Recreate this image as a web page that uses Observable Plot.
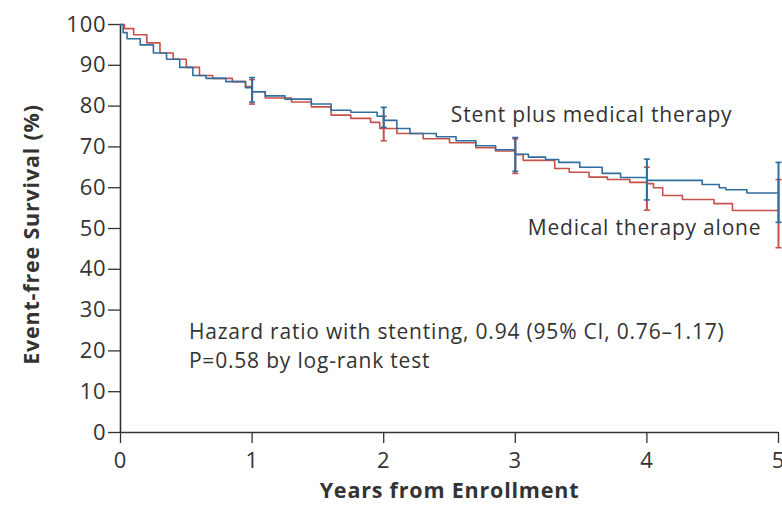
<!DOCTYPE html>
<html>
<head>
<meta charset="utf-8">
<script src="https://cdn.jsdelivr.net/npm/d3@7"></script>
<script src="https://cdn.jsdelivr.net/npm/@observablehq/plot@0.6"></script>
<style>
  html, body { margin: 0; padding: 0; background: #fff; }
  #chart svg text { letter-spacing: 0.8px; }
</style>
</head>
<body>
<div id="chart"></div>
<script>
// Kaplan-Meier step points: Stent plus medical therapy (blue)
const stentYears = [0, 0.02, 0.05, 0.15, 0.25, 0.35, 0.45, 0.55, 0.65, 0.8, 0.95, 1.0, 1.1, 1.25, 1.45, 1.6, 1.75, 1.95, 2.0, 2.1, 2.2, 2.4, 2.55, 2.7, 2.85, 3.0, 3.1, 3.23, 3.33, 3.49, 3.66, 3.8, 4.0, 4.42, 4.55, 4.6, 4.76, 5.0];
const stentValues = [100, 98, 96.5, 95, 93, 91.5, 89.5, 87.5, 86.8, 86, 84.5, 83.5, 82.5, 81.7, 80.5, 79, 78.5, 77.5, 76.5, 74.5, 73.3, 72.5, 71.5, 70.3, 69.3, 68.2, 67.5, 66.9, 66.2, 65, 63.5, 62.5, 61.8, 60.8, 60, 59.5, 58.7, 58.7];

// Medical therapy alone (red)
const medYears = [0, 0.03, 0.1, 0.2, 0.3, 0.4, 0.5, 0.6, 0.7, 0.85, 0.95, 1.0, 1.1, 1.3, 1.45, 1.6, 1.75, 1.9, 1.97, 2.1, 2.3, 2.5, 2.7, 2.85, 3.0, 3.06, 3.3, 3.41, 3.56, 3.7, 3.87, 4.0, 4.05, 4.12, 4.27, 4.51, 4.65, 5.0];
const medValues = [100, 99, 97.5, 95.5, 93, 91.5, 89.5, 87.5, 86.8, 86, 84.8, 83.5, 82, 81, 79.8, 77.8, 77, 76, 74.5, 73.3, 72, 71, 69.8, 69, 68.1, 66.7, 64.7, 63.8, 62.6, 62, 61.3, 61, 60, 58.1, 57.1, 56.1, 54.4, 54.4];

// 95% confidence bars at yearly marks
const ciYears = [1, 2, 3, 4, 5];
const stentLow = [81, 74.8, 64, 57, 51.5];
const stentHigh = [87, 79.7, 72.3, 67, 66.2];
const medLow = [80.5, 71.5, 63.5, 54.5, 45.3];
const medHigh = [86.5, 77.5, 72, 65, 62];

// Axis ticks
const xTicks = [0, 1, 2, 3, 4, 5];
const yTicks = [0, 10, 20, 30, 40, 50, 60, 70, 80, 90, 100];

// Annotations (anchored in data units)
const stentLabel = [{text: "Stent plus medical therapy", x: 2.51, y: 76.2}];
const medLabel = [{text: "Medical therapy alone", x: 4.87, y: 48.3}];
const statLines = [
  {text: "Hazard ratio with stenting, 0.94 (95% CI, 0.76\u20131.17)", x: 0.52, y: 23},
  {text: "P=0.58 by log-rank test", x: 0.52, y: 15.9}
];

const BLUE = "#2f6f9f";
const RED = "#c5514a";
const FONT = "Open Sans";

const stent = stentYears.map((x, i) => ({x, y: stentValues[i]}));
const med = medYears.map((x, i) => ({x, y: medValues[i]}));
const ciStent = ciYears.map((x, i) => ({x, lo: stentLow[i], hi: stentHigh[i]}));
const ciMed = ciYears.map((x, i) => ({x, lo: medLow[i], hi: medHigh[i]}));

const cap = {draw(ctx, size) { const w = Math.sqrt(size); ctx.moveTo(-w / 2, 0); ctx.lineTo(w / 2, 0); }};

const capMarks = (data, color) => [
  Plot.ruleX(data, {x: "x", y1: "lo", y2: "hi", stroke: color, strokeWidth: 2}),
  Plot.dot(data, {x: "x", y: "lo", symbol: cap, r: 3.4, stroke: color, strokeWidth: 1.6, fill: "none"}),
  Plot.dot(data, {x: "x", y: "hi", symbol: cap, r: 3.4, stroke: color, strokeWidth: 1.6, fill: "none"})
];

const chart = Plot.plot({
  width: 782,
  height: 515,
  marginLeft: 120,
  marginRight: 4,
  marginTop: 24,
  marginBottom: 83,
  style: {fontFamily: FONT, fontSize: "22px", color: "#333", background: "#fff", overflow: "visible"},
  x: {domain: [0, 5]},
  y: {domain: [0, 100]},
  marks: [
    Plot.axisY({ticks: yTicks, tickFormat: "d", tickSize: 12, tickPadding: 2, fontSize: 22, label: null, strokeWidth: 1.3}),
    Plot.axisX({ticks: xTicks, tickFormat: "d", tickSize: 11, tickPadding: 9, fontSize: 22, label: null, strokeWidth: 1.3}),
    Plot.ruleX([0], {stroke: "#333", strokeWidth: 1.6}),
    Plot.ruleY([0], {stroke: "#333", strokeWidth: 1.6}),
    ...capMarks(ciMed, RED),
    Plot.line(med, {x: "x", y: "y", stroke: RED, strokeWidth: 1.6, curve: "step-after"}),
    Plot.line(stent, {x: "x", y: "y", stroke: BLUE, strokeWidth: 1.6, curve: "step-after"}),
    ...capMarks(ciStent, BLUE),
    Plot.text(stentLabel, {x: "x", y: "y", text: "text", textAnchor: "start", lineAnchor: "bottom", fontSize: 21, fill: "#333"}),
    Plot.text(medLabel, {x: "x", y: "y", text: "text", textAnchor: "end", lineAnchor: "bottom", fontSize: 21, fill: "#333"}),
    Plot.text(statLines, {x: "x", y: "y", text: "text", textAnchor: "start", lineAnchor: "bottom", fontSize: 21, fill: "#333"}),
    Plot.text(["Event-free Survival (%)"], {frameAnchor: "left", textAnchor: "middle", rotate: -90, dx: -88, dy: 6, fontSize: 21.5, fontWeight: "bold", fill: "#333"}),
    Plot.text(["Years from Enrollment"], {frameAnchor: "bottom", textAnchor: "middle", dy: 65, fontSize: 21.5, fontWeight: "bold", fill: "#333"})
  ]
});

document.getElementById("chart").appendChild(chart);
</script>
</body>
</html>
